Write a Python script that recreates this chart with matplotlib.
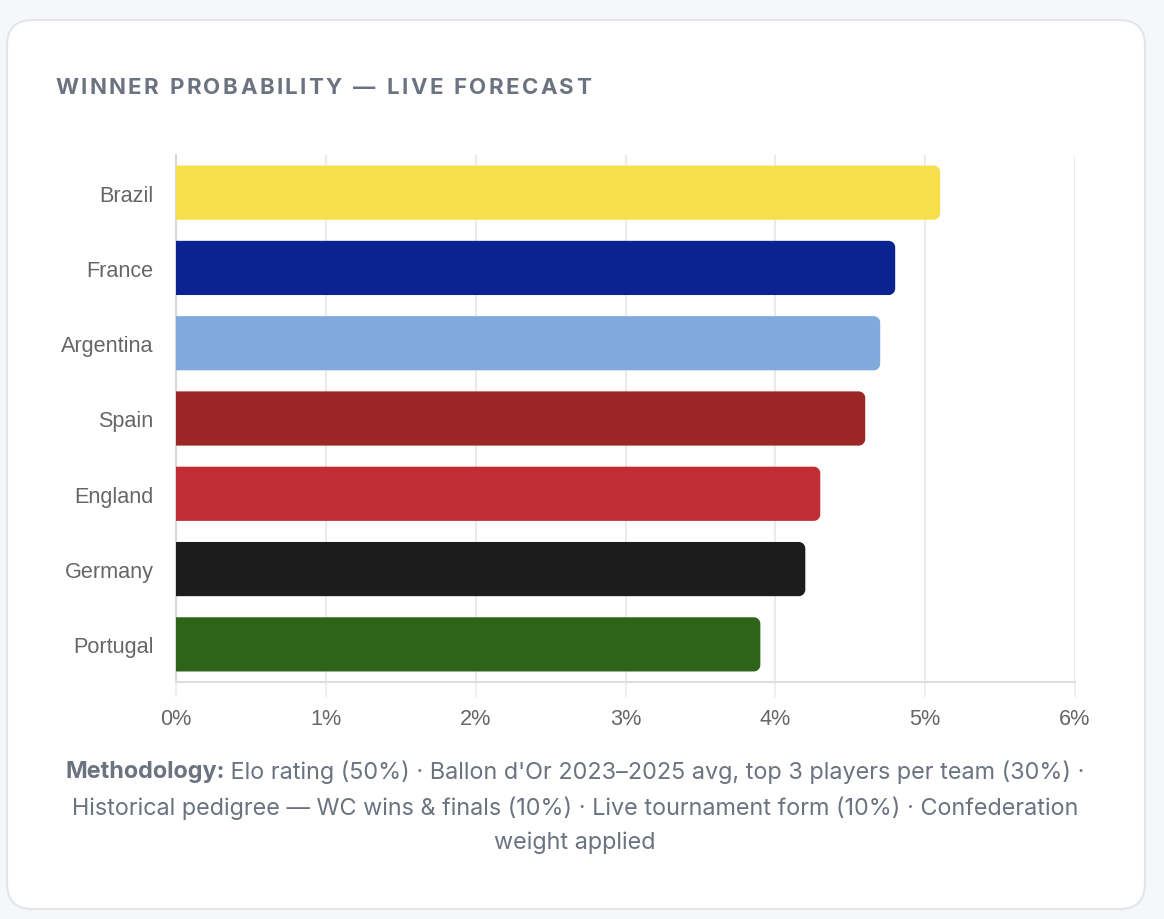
import matplotlib
matplotlib.use("Agg")
import matplotlib.pyplot as plt
from matplotlib.patches import FancyBboxPatch, PathPatch
from matplotlib.path import Path

teams = ["Brazil", "France", "Argentina", "Spain", "England", "Germany", "Portugal"]
probs = [5.1, 4.8, 4.7, 4.6, 4.3, 4.2, 3.9]
colors = ["#f7df4b", "#0b2391", "#80aadb", "#9b2626", "#c02d35", "#1c1c1c", "#2d641a"]
xticks = [0, 1, 2, 3, 4, 5, 6]
xtick_labels = ["0%", "1%", "2%", "3%", "4%", "5%", "6%"]
title = "WINNER PROBABILITY — LIVE FORECAST"
method_bold = "Methodology:"
method_line1 = " Elo rating (50%) · Ballon d'Or 2023–2025 avg, top 3 players per team (30%) ·"
method_line2 = "Historical pedigree — WC wins & finals (10%) · Live tournament form (10%) · Confederation"
method_line3 = "weight applied"

W, H = 1164, 920
fig = plt.figure(figsize=(W / 100, H / 100), dpi=100)
fig.patch.set_facecolor("#f6f7f9")

# card
card = FancyBboxPatch((7 / W, 10 / H), 1138 / W, 889 / H,
                      boxstyle="round,pad=0,rounding_size=0.022",
                      transform=fig.transFigure, facecolor="white",
                      edgecolor="#e3e5e9", linewidth=1.5, zorder=-5,
                      mutation_aspect=W / H)
fig.patches.append(card)

ax_l, ax_r, ax_t, ax_b = 176, 1075, 156, 683
ax = fig.add_axes([ax_l / W, 1 - ax_b / H, (ax_r - ax_l) / W, (ax_b - ax_t) / H])
ax.set_facecolor("none")

ypos = list(range(len(teams)))
bh = 0.72
bars = ax.barh(ypos, probs, height=bh, color=colors, alpha=0)
ax.set_xlim(0, 6)
ax.set_ylim(len(teams) - 0.5, -0.5)

# rounded right corners (radius in pixels)
pxx = (ax_r - ax_l) / 6.0
pxy = (ax_b - ax_t) / len(teams)
r = 6.5
rx, ry = r / pxx, r / pxy
k = 0.5523
for b, c in zip(bars, colors):
    x0, y0 = b.get_x(), b.get_y()
    x1, y1 = x0 + b.get_width(), y0 + b.get_height()
    verts = [(x0, y0), (x1 - rx, y0),
             (x1 - rx + k * rx, y0), (x1, y0 + ry - k * ry), (x1, y0 + ry),
             (x1, y1 - ry),
             (x1, y1 - ry + k * ry), (x1 - rx + k * rx, y1), (x1 - rx, y1),
             (x0, y1), (x0, y0)]
    codes = [Path.MOVETO, Path.LINETO,
             Path.CURVE4, Path.CURVE4, Path.CURVE4,
             Path.LINETO,
             Path.CURVE4, Path.CURVE4, Path.CURVE4,
             Path.LINETO, Path.CLOSEPOLY]
    ax.add_patch(PathPatch(Path(verts, codes), facecolor=c, edgecolor="none", zorder=3))

ax.set_xticks(xticks)
ax.set_xticklabels(xtick_labels)
ax.set_yticks(ypos)
ax.set_yticklabels(teams)
ax.grid(axis="x", color="#ebebeb", linewidth=1.5, zorder=0)
ax.set_axisbelow(True)
for s in ["top", "right"]:
    ax.spines[s].set_visible(False)
ax.spines["left"].set_color("#d8d8d8")
ax.spines["bottom"].set_color("#dedede")
ax.spines["left"].set_linewidth(1.5)
ax.spines["bottom"].set_linewidth(1.5)
ax.tick_params(axis="x", length=10.8, width=1.1, color="#ebebeb", pad=8,
               labelsize=15.6, labelcolor="#666666")
ax.tick_params(axis="y", length=0, pad=16, labelsize=15.6, labelcolor="#666666")
for t in ax.get_xticklabels() + ax.get_yticklabels():
    t.set_fontfamily("Liberation Sans")

# title with letter spacing
fig.canvas.draw()
renderer = fig.canvas.get_renderer()
x = 55
spacing = 2.4
tfs = 16
for ch in title:
    t = fig.text(x / W, 1 - 88 / H, ch, fontsize=tfs, fontweight="bold",
                 family="Inter", color="#6b7280", va="center", ha="left")
    wpx = t.get_window_extent(renderer).width
    if ch == " ":
        wpx = tfs * 100 / 72 * 0.28
    x += wpx + spacing

# methodology
fs = 16.85
mcol = "#6b7280"
tb = fig.text(0, 0, method_bold, fontsize=fs, fontweight="bold", family="Inter", color=mcol)
tn = fig.text(0, 0, method_line1, fontsize=fs, family="Inter", color=mcol)
wb = tb.get_window_extent(renderer).width
wn = tn.get_window_extent(renderer).width
total = wb + wn
cx = 575
start = cx - total / 2
tb.set_position((start / W, 1 - 772 / H))
tb.set_va("center")
tn.set_position(((start + wb) / W, 1 - 772 / H))
tn.set_va("center")
fig.text(cx / W, 1 - 808 / H, method_line2, fontsize=fs, family="Inter", color=mcol,
         ha="center", va="center")
fig.text(cx / W, 1 - 843 / H, method_line3, fontsize=fs, family="Inter", color=mcol,
         ha="center", va="center")

fig.savefig("out.png", dpi=100, facecolor=fig.get_facecolor())
